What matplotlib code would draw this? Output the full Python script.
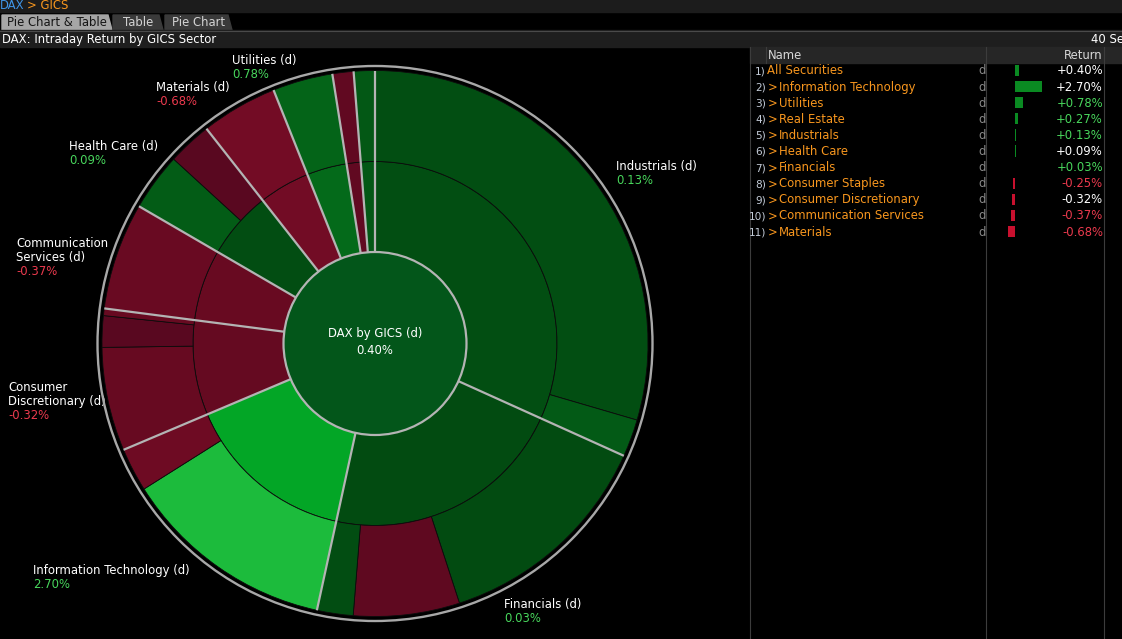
import numpy as np
import matplotlib
matplotlib.use('Agg')
import matplotlib.pyplot as plt
import matplotlib.colors as mcolors
from matplotlib.patches import Rectangle, Polygon, Circle

# sectors in clockwise order, starting at 12 o'clock
sectors = ['Industrials', 'Financials', 'Information Technology', 'Consumer Discretionary',
           'Communication Services', 'Health Care', 'Materials', 'Utilities',
           'Consumer Staples', 'Real Estate']
sector_weight = [31.75, 21.67, 15.22, 8.42, 6.33, 6.03, 4.53, 3.56, 1.25, 1.25]
sector_return = [0.13, 0.03, 2.70, -0.32, -0.37, 0.09, -0.68, 0.78, -0.25, 0.27]

# outer ring: pieces inside each sector
outer_weight = [[29.53, 2.22], [13.25, 6.28, 2.14], [12.64, 2.58], [6.14, 1.86, 0.42],
                [6.33], [3.42, 2.61], [4.53], [3.56], [1.25], [1.25]]
outer_return = [[0.12, 0.30], [0.02, -0.22, 0.10], [3.50, -0.55], [-0.35, -0.12, -0.35],
                [-0.40], [0.35, -0.12], [-0.70], [0.60], [-0.25], [0.27]]
index_return = 0.40

pie_labels = ['Industrials (d)', 'Financials (d)', 'Information Technology (d)',
              'Consumer\nDiscretionary (d)', 'Communication\nServices (d)', 'Health Care (d)',
              'Materials (d)', 'Utilities (d)', None, None]

# table on the right
table_names = ['All Securities', 'Information Technology', 'Utilities', 'Real Estate',
               'Industrials', 'Health Care', 'Financials', 'Consumer Staples',
               'Consumer Discretionary', 'Communication Services', 'Materials']
table_returns = [0.40, 2.70, 0.78, 0.27, 0.13, 0.09, 0.03, -0.25, -0.32, -0.37, -0.68]
table_tick = ['flat', 'flat', 'up', 'up', 'up', 'flat', 'up', 'down', 'flat', 'down', 'down']

W, H = 1122, 639
FONT = 'DejaVu Sans'
FS = 8.4
GREEN_TXT = '#48d65c'
RED_TXT = '#ec3a4e'
ORANGE = '#f7961e'

neg_stops = ([-0.70, -0.35, -0.12, 0.0], ['#730c25', '#670a21', '#590820', '#590820'])
pos_stops = ([0.0, 0.15, 0.30, 0.80, 2.70, 3.50],
             ['#024a11', '#024f12', '#035a16', '#046b1a', '#03a626', '#1cbb3c'])


def ret_color(r):
    xs, cs = neg_stops if r < 0 else pos_stops
    rgb = np.array([mcolors.to_rgb(c) for c in cs])
    return tuple(np.interp(r, xs, rgb[:, i]) for i in range(3))


fig = plt.figure(figsize=(W / 100, H / 100), dpi=100)
fig.patch.set_facecolor('black')

# background / table axes in pixel coords
bg = fig.add_axes([0, 0, 1, 1])
bg.set_xlim(0, W)
bg.set_ylim(H, 0)
bg.axis('off')

bg.add_patch(Rectangle((0, 0), W, 12, color='#1c1c1c'))
bg.text(0, 9, 'DAX', color='#3f95e8', fontsize=FS, family=FONT)
bg.text(27, 9, '> GICS', color=ORANGE, fontsize=FS, family=FONT)

tabs = [('Pie Chart & Table', 2, 108, '#a6a6a6', '#151515'),
        ('Table', 113, 159, '#3a3a3a', '#d4d4d4'),
        ('Pie Chart', 165, 228, '#3a3a3a', '#d4d4d4')]
for t, x0, x1, fc, tc in tabs:
    bg.add_patch(Polygon([(x0, 30), (x0, 15), (x1, 15), (x1 + 4, 30)], closed=True, color=fc))
    bg.text((x0 + x1 + 4) / 2, 26.5, t, color=tc, fontsize=FS, family=FONT, ha='center')

bg.add_patch(Rectangle((0, 30), W, 16.5, color='#1e1e1e'))
bg.plot([0, W], [30.5, 30.5], color='#4a4a4a', lw=0.8)
bg.text(2, 43, 'DAX: Intraday Return by GICS Sector', color='white', fontsize=FS, family=FONT)
bg.text(1091, 43, '40 Se', color='white', fontsize=FS, family=FONT)

# table header
bg.add_patch(Rectangle((750, 47), W - 750, 15.5, color='#262626'))
for x in [750, 766, 986, 1104]:
    y1 = 62.5 if x == 766 else H
    bg.plot([x, x], [47, y1], color='#3c3c3c', lw=0.8)
bg.text(768, 59, 'Name', color='#d8d8d8', fontsize=FS, family=FONT)
bg.text(1103, 59, 'Return', color='#d8d8d8', fontsize=FS, family=FONT, ha='right')

row0, row_h = 70.5, 16.1
tick_col = {'flat': 'white', 'up': GREEN_TXT, 'down': RED_TXT}
for i, (name, r, tk) in enumerate(zip(table_names, table_returns, table_tick)):
    yb = row0 + i * row_h + 4
    bg.text(766, yb, f'{i + 1})', color='#c4ccd8', fontsize=FS - 0.8, family=FONT, ha='right')
    if i == 0:
        bg.text(767, yb, name, color=ORANGE, fontsize=FS, family=FONT)
    else:
        bg.text(768, yb, '>', color=ORANGE, fontsize=FS, family=FONT)
        bg.text(779, yb, name, color=ORANGE, fontsize=FS, family=FONT)
    bg.text(978, yb, 'd', color='#8a8a8a', fontsize=FS, family=FONT)
    bg.text(1103, yb, f'{r:+.2f}%', color=tick_col[tk], fontsize=FS, family=FONT, ha='right')

# return bars in the table
n = len(table_returns)
top = row0 - row_h / 2
axb = fig.add_axes([987 / W, 1 - (top + n * row_h) / H, 116 / W, n * row_h / H])
axb.barh(range(n), table_returns, height=0.7,
         color=['#0a8a22' if r >= 0 else '#c8102e' for r in table_returns])
axb.set_xlim(-2.8, 8.8)
axb.set_ylim(n - 0.5, -0.5)
axb.axis('off')

# sunburst pie
cx, cy, S = 375, 343.5, 300
ax = fig.add_axes([(cx - S) / W, (H - cy - S) / H, 2 * S / W, 2 * S / H])
R_in, R_mid, R_out = 91.5, 182, 273
edge = dict(edgecolor='#0c0c0c', linewidth=0.6)
ax.pie(sector_weight, colors=[ret_color(r) for r in sector_return], radius=R_mid,
       startangle=90, counterclock=False, wedgeprops=dict(width=R_mid - R_in, **edge))
flat_w = [w for g in outer_weight for w in g]
flat_c = [ret_color(r) for g in outer_return for r in g]
ax.pie(flat_w, colors=flat_c, radius=R_out, startangle=90, counterclock=False,
       wedgeprops=dict(width=R_out - R_mid, **edge))

bounds = 90 - 360 * np.concatenate([[0], np.cumsum(sector_weight)]) / np.sum(sector_weight)
for a in bounds[:-1]:
    t = np.radians(a)
    ax.plot([R_in * np.cos(t), R_out * np.cos(t)], [R_in * np.sin(t), R_out * np.sin(t)],
            color='#b4b4b4', lw=1.6, solid_capstyle='butt', zorder=3)
ax.add_patch(Circle((0, 0), R_in, fc='#03561a', ec='#b4b4b4', lw=1.6, zorder=4))
ax.add_patch(Circle((0, 0), 277.5, fill=False, ec='#a8a8a8', lw=1.7, zorder=4))
ax.text(0, 6, 'DAX by GICS (d)', color='white', fontsize=FS, family=FONT, ha='center', zorder=5)
ax.text(0, -10, f'{index_return:.2f}%', color='white', fontsize=FS, family=FONT, ha='center',
        zorder=5)
ax.set_xlim(-S, S)
ax.set_ylim(-S, S)
ax.set_aspect('equal')
ax.axis('off')

# sector labels around the pie (first line centre, in pixels)
label_xy = [(616, 166), (504, 604), (33, 570), (8, 387), (16, 243), (69, 146), (156, 87),
            (232, 60), None, None]
for lab, xy, r in zip(pie_labels, label_xy, sector_return):
    if lab is None:
        continue
    x, y = xy
    lines = lab.split('\n')
    for k, ln in enumerate(lines):
        bg.text(x, y + 4 + 14 * k, ln, color='white', fontsize=FS, family=FONT)
    bg.text(x, y + 4 + 14 * len(lines), f'{r:.2f}%', color=GREEN_TXT if r >= 0 else RED_TXT,
            fontsize=FS, family=FONT)

fig.savefig('out.png', dpi=100, facecolor=fig.get_facecolor())
